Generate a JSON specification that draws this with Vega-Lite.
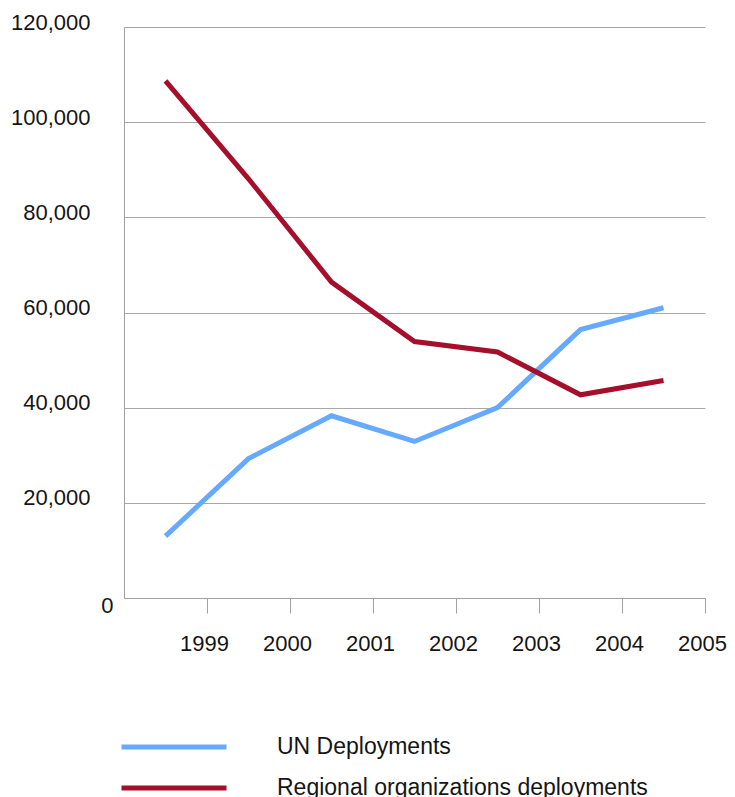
{
  "$schema": "https://vega.github.io/schema/vega-lite/v6.json",
  "width": 581,
  "height": 571,
  "autosize": {"type": "none"},
  "padding": {"left": 124, "top": 27, "right": 30, "bottom": 199},
  "background": "white",
  "config": {
    "view": {"stroke": null},
    "font": "Liberation Sans"
  },
  "data": {
    "values": [
      {"year": "1999", "series": "UN Deployments", "value": 13000},
      {"year": "2000", "series": "UN Deployments", "value": 29300},
      {"year": "2001", "series": "UN Deployments", "value": 38300},
      {"year": "2002", "series": "UN Deployments", "value": 32900},
      {"year": "2003", "series": "UN Deployments", "value": 40000},
      {"year": "2004", "series": "UN Deployments", "value": 56400},
      {"year": "2005", "series": "UN Deployments", "value": 61000},
      {"year": "1999", "series": "Regional organizations deployments", "value": 108700},
      {"year": "2000", "series": "Regional organizations deployments", "value": 88100},
      {"year": "2001", "series": "Regional organizations deployments", "value": 66400},
      {"year": "2002", "series": "Regional organizations deployments", "value": 53900},
      {"year": "2003", "series": "Regional organizations deployments", "value": 51700},
      {"year": "2004", "series": "Regional organizations deployments", "value": 42700},
      {"year": "2005", "series": "Regional organizations deployments", "value": 45700}
    ]
  },
  "mark": {"type": "line", "strokeWidth": 5, "strokeCap": "butt", "strokeJoin": "miter"},
  "encoding": {
    "x": {
      "field": "year",
      "type": "ordinal",
      "scale": {"type": "band", "paddingInner": 0, "paddingOuter": 0},
      "axis": {
        "title": null,
        "bandPosition": 1,
        "labelAngle": 0,
        "labelOffset": 39,
        "domainColor": "#a0a0a0",
        "domainWidth": 1,
        "tickColor": "#a0a0a0",
        "tickWidth": 1,
        "tickSize": 15,
        "labelPadding": 20,
        "labelFontSize": 22,
        "labelColor": "#151515",
        "grid": false
      }
    },
    "y": {
      "field": "value",
      "type": "quantitative",
      "scale": {"domain": [0, 120000], "nice": false},
      "axis": {
        "title": null,
        "values": [0, 20000, 40000, 60000, 80000, 100000, 120000],
        "format": ",d",
        "ticks": false,
        "tickSize": 0,
        "domainColor": "#a0a0a0",
        "domainWidth": 1,
        "grid": true,
        "gridColor": "#a8a8a8",
        "gridWidth": 1,
        "labelFontSize": 22,
        "labelColor": "#151515",
        "labelPadding": {"condition": {"test": "datum.value === 0", "value": 11}, "value": 34},
        "labelOffset": {"condition": {"test": "datum.value === 0", "value": 7}, "value": -5}
      }
    },
    "color": {
      "field": "series",
      "type": "nominal",
      "sort": ["UN Deployments", "Regional organizations deployments"],
      "scale": {
        "domain": ["UN Deployments", "Regional organizations deployments"],
        "range": ["#66aaff", "#a50f2b"]
      },
      "legend": {
        "title": null,
        "orient": "none",
        "legendX": 37,
        "legendY": 707,
        "padding": 0,
        "direction": "vertical",
        "symbolType": "M-5,0H5",
        "symbolSize": 441,
        "symbolStrokeWidth": 5,
        "labelOffset": 90,
        "labelFontSize": 23,
        "labelLimit": 0,
        "labelColor": "#151515",
        "rowPadding": 16
      }
    }
  }
}
